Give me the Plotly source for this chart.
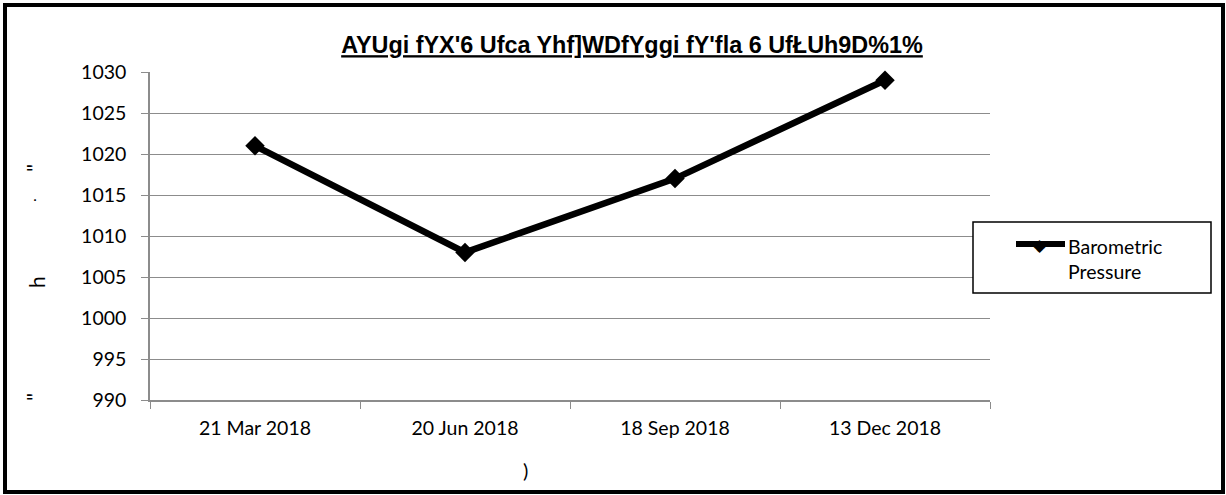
import plotly.graph_objects as go

# chart data
dates = ["21 Mar 2018", "20 Jun 2018", "18 Sep 2018", "13 Dec 2018"]
pressure = [1021, 1008, 1017, 1029]
y_ticks = [990, 995, 1000, 1005, 1010, 1015, 1020, 1025, 1030]

title_text = "AYUgi fYX'6 Ufca Yhf]WDfYggi fY'fla 6 UfŁUh9D%1%"
series_name = "Barometric<br>Pressure"

# plot area in pixels
L, R, T, B = 150, 990, 72, 400
W, H = 1226, 495


def px(x):
    return (x - L) / (R - L)


def py(y):
    return (B - y) / (B - T)


def main():
    fig = go.Figure()
    fig.add_trace(go.Scatter(
        x=dates, y=pressure, mode="lines+markers",
        line=dict(color="black", width=6.5),
        marker=dict(symbol="diamond", size=15, color="black"),
        showlegend=False, cliponaxis=False,
    ))

    fig.update_layout(
        width=W, height=H,
        margin=dict(l=L, r=W - R, t=T, b=H - B),
        paper_bgcolor="white", plot_bgcolor="white",
        font=dict(family="Lato, Open Sans, sans-serif", size=19, color="black"),
        title=dict(text="<b><u>" + title_text + "</u></b>", x=px(632), xref="paper",
                   xanchor="center", y=1 - 45 / H, yanchor="middle",
                   font=dict(family="Liberation Sans, Arial, sans-serif", size=23.4)),
    )
    fig.update_xaxes(
        type="category", range=[-0.5, 3.5], tickson="boundaries",
        ticks="outside", ticklen=7, tickcolor="#8c8c8c",
        showline=True, linecolor="#8c8c8c", linewidth=1.5,
        showgrid=False, tickfont=dict(size=19.5), ticklabelstandoff=10,
    )
    fig.update_yaxes(
        range=[990, 1030], tickvals=y_ticks,
        ticks="outside", ticklen=7, tickcolor="#8c8c8c",
        showline=True, linecolor="#8c8c8c", linewidth=1.5,
        showgrid=True, gridcolor="#8c8c8c", gridwidth=1,
        zeroline=False, tickfont=dict(size=19.5), ticklabelstandoff=11,
    )

    shapes = [
        # outer border
        dict(type="rect", xref="paper", yref="paper",
             x0=px(5), x1=px(1223), y0=py(5), y1=py(492),
             line=dict(color="black", width=4)),
        # legend box
        dict(type="rect", xref="paper", yref="paper",
             x0=px(973), x1=px(1211), y0=py(222), y1=py(293),
             line=dict(color="black", width=1.5), fillcolor="white"),
        # legend line sample
        dict(type="line", xref="paper", yref="paper",
             x0=px(1016), x1=px(1065), y0=py(244), y1=py(244),
             line=dict(color="black", width=6)),
    ]
    fig.update_layout(shapes=shapes)

    ann = [
        dict(text="◆", x=px(1040), y=py(244), font=dict(size=17)),
        dict(text=series_name, x=px(1066), y=py(259), xanchor="left", align="left",
             font=dict(size=19.5)),
        dict(text=")", x=px(525), y=py(470), font=dict(size=20)),
        dict(text='"', x=px(33), y=py(168), textangle=-90, font=dict(size=22)),
        dict(text=".", x=px(29), y=py(200), textangle=-90, font=dict(size=16)),
        dict(text="h", x=px(36), y=py(282), textangle=-90, font=dict(size=21)),
        dict(text='"', x=px(33), y=py(397), textangle=-90, font=dict(size=22)),
    ]
    for a in ann:
        a.setdefault("xanchor", "center")
        fig.add_annotation(xref="paper", yref="paper", showarrow=False, yanchor="middle", **a)

    fig.write_html("out.html", config={"displayModeBar": False},
                   post_script="document.body.style.margin='0';")


if __name__ == '__main__':
    main()
